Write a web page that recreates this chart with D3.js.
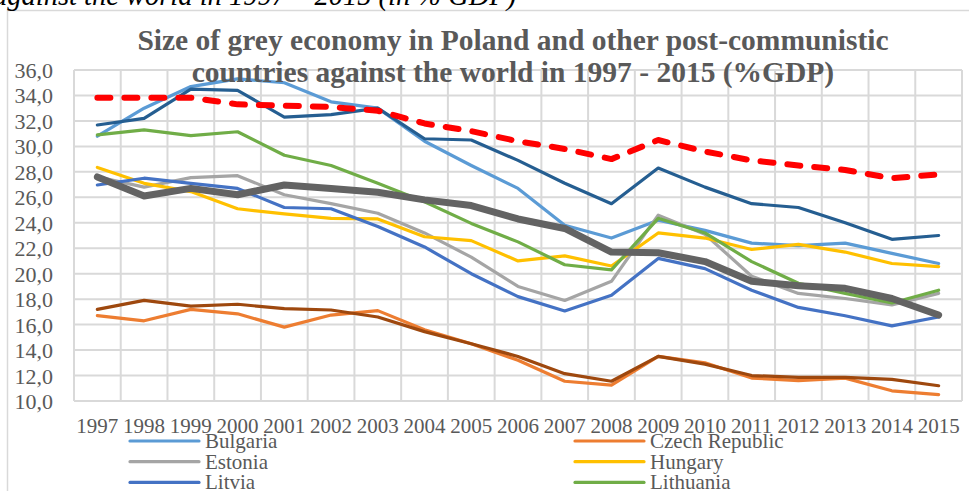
<html>
<head>
<meta charset="UTF-8">
<title>Grey economy</title>
<script src="https://cdn.jsdelivr.net/npm/d3@7"></script>
<style>
    body { margin: 0; background: #fff; }
    svg { display: block; font-family: "Liberation Serif", "Times New Roman", serif; }
</style>
</head>
<body>
<svg id="chart" width="969" height="491"></svg>
<script>
// data (% of GDP)
var years = ["1997","1998","1999","2000","2001","2002","2003","2004","2005","2006",
             "2007","2008","2009","2010","2011","2012","2013","2014","2015"];
var bulgaria  = [30.8, 33.0, 34.7, 35.3, 35.0, 33.5, 33.0, 30.4, 28.5, 26.7, 23.8, 22.8, 24.2, 23.4, 22.4, 22.2, 22.4, 21.6, 20.8];
var czech     = [16.7, 16.3, 17.2, 16.85, 15.8, 16.75, 17.1, 15.6, 14.5, 13.2, 11.55, 11.25, 13.5, 13.0, 11.8, 11.6, 11.8, 10.8, 10.5];
var estonia   = [27.6, 26.8, 27.55, 27.7, 26.2, 25.5, 24.75, 23.2, 21.3, 19.0, 17.9, 19.4, 24.6, 23.1, 19.8, 18.45, 18.05, 17.55, 18.45];
var hungary   = [28.35, 27.1, 26.45, 25.1, 24.7, 24.35, 24.3, 22.9, 22.6, 21.0, 21.4, 20.6, 23.2, 22.8, 21.9, 22.3, 21.7, 20.8, 20.55];
var litvia    = [26.97, 27.5, 27.1, 26.7, 25.2, 25.1, 23.7, 22.1, 20.0, 18.2, 17.07, 18.3, 21.2, 20.4, 18.7, 17.35, 16.7, 15.9, 16.6];
var lithuania = [30.9, 31.3, 30.85, 31.15, 29.3, 28.5, 27.1, 25.65, 23.95, 22.5, 20.7, 20.3, 24.35, 23.2, 20.95, 19.25, 18.45, 17.7, 18.7];
var romania   = [31.68, 32.2, 34.5, 34.4, 32.3, 32.5, 33.0, 30.6, 30.5, 28.9, 27.1, 25.5, 28.3, 26.8, 25.5, 25.2, 24.0, 22.7, 23.0];
var slovakia  = [17.2, 17.9, 17.45, 17.6, 17.25, 17.15, 16.6, 15.45, 14.5, 13.5, 12.15, 11.55, 13.5, 12.9, 12.0, 11.85, 11.85, 11.7, 11.2];
var poland    = [27.6, 26.1, 26.7, 26.2, 26.97, 26.7, 26.4, 25.8, 25.35, 24.3, 23.55, 21.7, 21.65, 20.95, 19.4, 19.05, 18.85, 18.05, 16.75];
var world     = [33.83, 33.83, 33.83, 33.3, 33.2, 33.1, 32.8, 31.8, 31.2, 30.4, 29.8, 29.0, 30.5, 29.6, 28.9, 28.5, 28.15, 27.5, 27.8];

var names  = ["Bulgaria","Czech Republic","Estonia","Hungary","Litvia","Lithuania","Romania","Slovakia","Poland","World"];
var yTicks = [10,12,14,16,18,20,22,24,26,28,30,32,34,36];

var series = [
    {name: names[0], values: bulgaria,  color: "#5B9BD5", width: 3.2},
    {name: names[1], values: czech,     color: "#ED7D31", width: 3.2},
    {name: names[2], values: estonia,   color: "#A5A5A5", width: 3.2},
    {name: names[3], values: hungary,   color: "#FFC000", width: 3.2},
    {name: names[4], values: litvia,    color: "#4472C4", width: 3.2},
    {name: names[5], values: lithuania, color: "#70AD47", width: 3.2},
    {name: names[6], values: romania,   color: "#255E91", width: 3.2},
    {name: names[7], values: slovakia,  color: "#9E480E", width: 3.2},
    {name: names[8], values: poland,    color: "#636363", width: 7},
    {name: names[9], values: world,     color: "#FF0000", width: 6, dash: "13,14"}
];

var svg = d3.select("#chart");
var grey = "#595959";

// chart area border (partly outside the picture)
svg.append("path")
    .attr("d", "M7.5 491 L7.5 10.5 L975 10.5")
    .attr("fill", "none").attr("stroke", "#d9d9d9").attr("stroke-width", 1.5);

// text of the page above the chart, cut off
svg.append("text")
    .attr("x", -7).attr("y", 5)
    .attr("font-size", 28.5).attr("font-style", "italic").attr("fill", "#000")
    .text("against the world in 1997 \u2013 2015 (in % GDP)");

var x = d3.scaleBand().domain(years).range([74, 962]);
var y = d3.scaleLinear().domain([10, 36]).range([401, 70]);
var cx = function(i){ return x(years[i]) + x.bandwidth() / 2; };

// gridlines
var grid = svg.append("g").attr("stroke", "#d9d9d9").attr("stroke-width", 2);
grid.selectAll("line.h").data(yTicks).enter().append("line")
    .attr("class", "h")
    .attr("x1", 74).attr("x2", 962)
    .attr("y1", function(d){ return y(d); }).attr("y2", function(d){ return y(d); });
grid.selectAll("line.v").data(years.concat(["end"])).enter().append("line")
    .attr("class", "v")
    .attr("x1", function(d){ return d == "end" ? 962 : x(d); })
    .attr("x2", function(d){ return d == "end" ? 962 : x(d); })
    .attr("y1", 70).attr("y2", 401);

// axes
var yAxis = svg.append("g").attr("transform", "translate(74,0)")
    .call(d3.axisLeft(y).tickValues(yTicks).tickSize(0).tickPadding(21)
        .tickFormat(function(d){ return d.toFixed(1).replace(".", ","); }));
yAxis.select(".domain").remove();
yAxis.selectAll("text").attr("font-size", 22).attr("fill", grey)
    .attr("font-family", "Liberation Serif").attr("dy", "0.34em");

var xAxis = svg.append("g").attr("transform", "translate(0,401)")
    .call(d3.axisBottom(x).tickSize(0).tickPadding(17));
xAxis.select(".domain").remove();
xAxis.selectAll("text").attr("font-size", 21).attr("fill", grey)
    .attr("font-family", "Liberation Serif");

// lines
var line = d3.line()
    .x(function(d, i){ return cx(i); })
    .y(function(d){ return y(d); });

svg.append("g").selectAll("path.series").data(series).enter().append("path")
    .attr("class", "series")
    .attr("fill", "none")
    .attr("stroke", function(d){ return d.color; })
    .attr("stroke-width", function(d){ return d.width; })
    .attr("stroke-linejoin", "round")
    .attr("stroke-linecap", "round")
    .attr("stroke-dasharray", function(d){ return d.dash || null; })
    .attr("d", function(d){ return line(d.values); });

// title
var title = svg.append("text")
    .attr("x", 513).attr("text-anchor", "middle")
    .attr("font-size", 29.5).attr("font-weight", "bold").attr("fill", grey)
    .attr("font-family", "Liberation Serif");
title.append("tspan").attr("x", 513).attr("y", 50)
    .text("Size of grey economy in Poland and other post-communistic");
title.append("tspan").attr("x", 513).attr("y", 82)
    .text("countries against the world in 1997 - 2015 (%GDP)");

// legend, two columns; the lower rows fall below the picture
var leg = svg.append("g").selectAll("g").data(series).enter().append("g")
    .attr("transform", function(d, i){
        return "translate(" + (130 + (i % 2) * 445) + "," + (441 + Math.floor(i / 2) * 20.7) + ")";
    });
leg.append("line")
    .attr("x1", 0).attr("x2", 69).attr("y1", 0).attr("y2", 0)
    .attr("stroke", function(d){ return d.color; })
    .attr("stroke-width", function(d){ return Math.min(d.width, 3.2); })
    .attr("stroke-linecap", "round")
    .attr("stroke-dasharray", function(d){ return d.dash ? "6,6" : null; });
leg.append("text")
    .attr("x", 75).attr("y", 7)
    .attr("font-size", 21).attr("fill", grey)
    .text(function(d){ return d.name; });
</script>
</body>
</html>
